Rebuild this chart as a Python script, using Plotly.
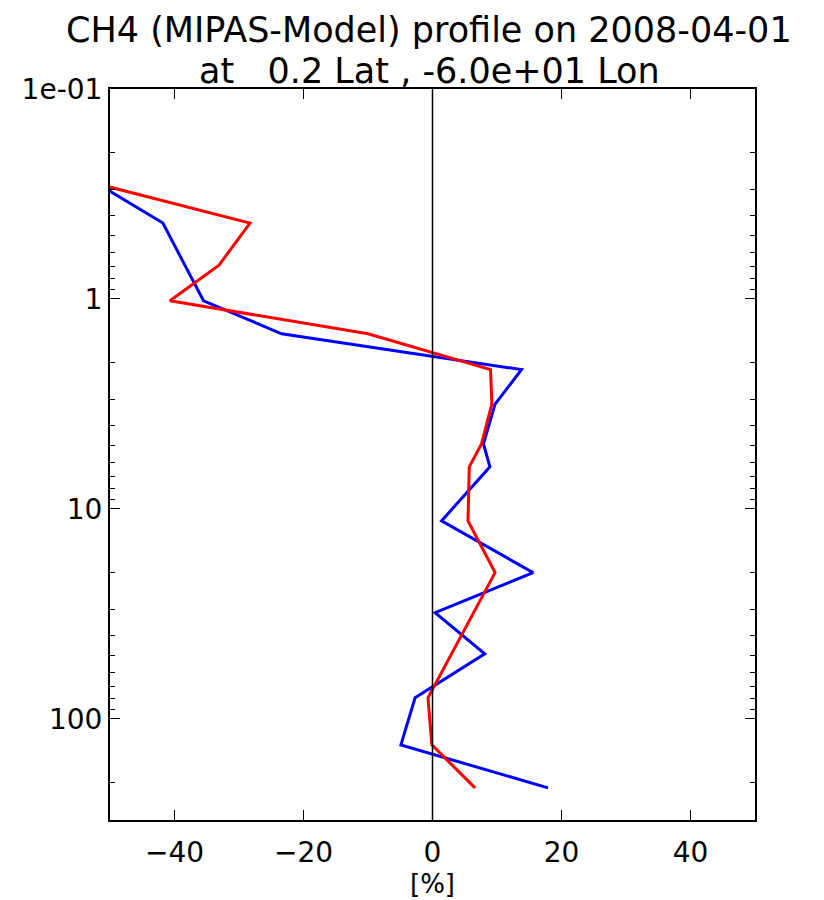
import plotly.graph_objects as go

# Pressure levels [hPa]
pressure = [0.29, 0.435, 0.69, 1.02, 1.465, 2.17, 3.17, 4.9, 6.3, 11.4, 20.1, 31.2, 49, 79.3, 133, 213]
# Relative difference [%]
blue_vals = [-51.3, -41.8, -38.4, -35.5, -23.4, 13.8, 9.7, 7.9, 8.9, 1.4, 15.6, 0.4, 8.1, -2.7, -4.9, 17.9]
red_vals = [-50.6, -28.3, -33.1, -40.7, -10.0, 9.0, 9.2, 7.6, 5.7, 5.5, 9.7, 6.4, 2.9, -0.7, -0.1, 6.6]

x_ticks = [-40, -20, 0, 20, 40]
x_ticktext = ["\u221240", "\u221220", "0", "20", "40"]
y_ticks = [0.1, 1, 10, 100]
y_ticktext = ["1e-01", "1", "10", "100"]
y_minor = [m * d for d in [0.1, 1, 10, 100] for m in range(2, 10) if m * d <= 300]

title_line1 = "CH4 (MIPAS-Model) profile on 2008-04-01"
title_line2 = "at   0.2 Lat , -6.0e+01 Lon"

font_family = "DejaVu Sans"

fig = go.Figure()
fig.add_trace(go.Scatter(x=blue_vals, y=pressure, mode="lines",
                         line=dict(color="#0000ff", width=3), showlegend=False))
fig.add_trace(go.Scatter(x=red_vals, y=pressure, mode="lines",
                         line=dict(color="#ff0000", width=3), showlegend=False))
fig.add_vline(x=0, line=dict(color="black", width=1.5))

fig.add_annotation(text=title_line1, xref="paper", yref="paper", x=0.495, y=1.1101,
                   xanchor="center", yanchor="top", showarrow=False, borderpad=0,
                   font=dict(family=font_family, size=35, color="black"))
fig.add_annotation(text=title_line2.replace(" ", "&nbsp;"), xref="paper", yref="paper", x=0.495, y=1.0535,
                   xanchor="center", yanchor="top", showarrow=False, borderpad=0,
                   font=dict(family=font_family, size=35, color="black"))

fig.update_layout(
    width=824, height=900,
    margin=dict(l=102, r=77, t=81, b=88),
    paper_bgcolor="white", plot_bgcolor="white",
    font=dict(family=font_family, color="black"),
)
fig.update_xaxes(
    range=[-50, 50], tickvals=x_ticks, ticktext=x_ticktext,
    ticks="inside", ticklen=10, tickwidth=1, tickcolor="black",
    showline=True, linecolor="black", linewidth=2, mirror="ticks",
    showgrid=False, zeroline=False, ticklabelstandoff=6,
    tickfont=dict(size=28, family=font_family),
    title=dict(text="[%]", font=dict(size=26, family=font_family), standoff=2),
)
fig.update_yaxes(
    type="log", range=[2.4815, -1], tickvals=y_ticks, ticktext=y_ticktext,
    ticks="inside", ticklen=10, tickwidth=1, tickcolor="black",
    minor=dict(tickvals=y_minor, ticks="inside", ticklen=5, tickcolor="black", showgrid=False),
    showline=True, linecolor="black", linewidth=2, mirror="ticks",
    showgrid=False, zeroline=False,
    tickfont=dict(size=28, family=font_family),
)

fig.write_html("out.html")
